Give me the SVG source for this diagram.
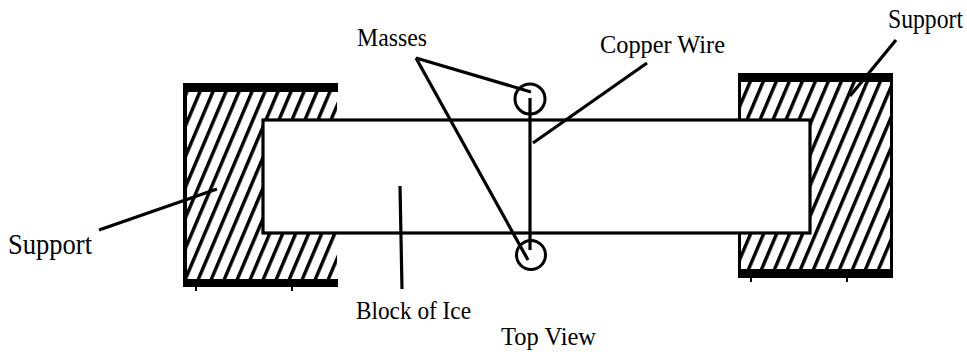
<svg xmlns="http://www.w3.org/2000/svg" width="967" height="356" viewBox="0 0 967 356">
<style>
.t{font-family:"Liberation Serif","Times New Roman",serif;fill:#000;font-size:26px}
.l{stroke:#000;stroke-width:3.2;fill:none;stroke-linecap:butt}
.b{fill:#000}
.ice{fill:#fff;stroke:#000;stroke-width:3.2}
.c{fill:none;stroke:#000;stroke-width:3}
</style>
<defs>
<pattern id="h" width="13" height="28" patternUnits="userSpaceOnUse" patternTransform="translate(3 0) skewX(-23)">
<rect x="0" y="0" width="3.7" height="28" fill="#000"/>
</pattern>
</defs>
<g id="support-left">
<rect x="184" y="84" width="153" height="203" fill="#fff"/>
<rect x="184" y="84" width="153" height="203" fill="url(#h)"/>
<rect class="b" x="183" y="83" width="155" height="9"/>
<rect class="b" x="183" y="279" width="155" height="8"/>
<rect class="b" x="183" y="83" width="4" height="204"/>
<rect class="b" x="195" y="287" width="2" height="4"/>
<rect class="b" x="291" y="287" width="2" height="4"/>
</g>
<g id="support-right">
<rect x="738" y="74" width="155" height="204" fill="#fff"/>
<rect x="738" y="74" width="155" height="204" fill="url(#h)"/>
<rect class="b" x="738" y="73" width="155" height="9"/>
<rect class="b" x="738" y="269" width="155" height="9"/>
<rect class="b" x="738" y="73" width="3" height="205"/>
<rect class="b" x="890" y="73" width="3" height="205"/>
<rect class="b" x="750" y="278" width="2" height="4"/>
<rect class="b" x="846" y="278" width="2" height="4"/>
</g>
<g id="ice-block"><rect class="ice" x="263" y="120" width="547" height="113"/></g>
<g id="mass-top"><circle class="c" cx="530" cy="99" r="15"/></g>
<g id="mass-bottom"><circle class="c" cx="531" cy="255" r="14.5"/></g>
<g id="connectors">
<path class="l" d="M530 98V250"/>
<path class="l" d="M416 58L531 92"/>
<path class="l" d="M416 58L528 260"/>
<path class="l" d="M533 143L647 63"/>
<path class="l" d="M400 186L402 289"/>
<path class="l" d="M99 230L217 189"/>
<path class="l" d="M896 40L850 96"/>
</g>
<g id="labels">
<text class="t" x="357" y="46" textLength="70" lengthAdjust="spacingAndGlyphs">Masses</text>
<text class="t" x="600" y="53" textLength="125" lengthAdjust="spacingAndGlyphs">Copper Wire</text>
<text class="t" transform="translate(888 28) scale(.846 1)" style="font-size:28px">Support</text>
<text class="t" x="8" y="254" style="font-size:30px" textLength="84" lengthAdjust="spacingAndGlyphs">Support</text>
<text class="t" x="356" y="319" textLength="115" lengthAdjust="spacingAndGlyphs">Block of Ice</text>
<text class="t" x="501" y="345" textLength="95" lengthAdjust="spacingAndGlyphs">Top View</text>
</g>
</svg>
